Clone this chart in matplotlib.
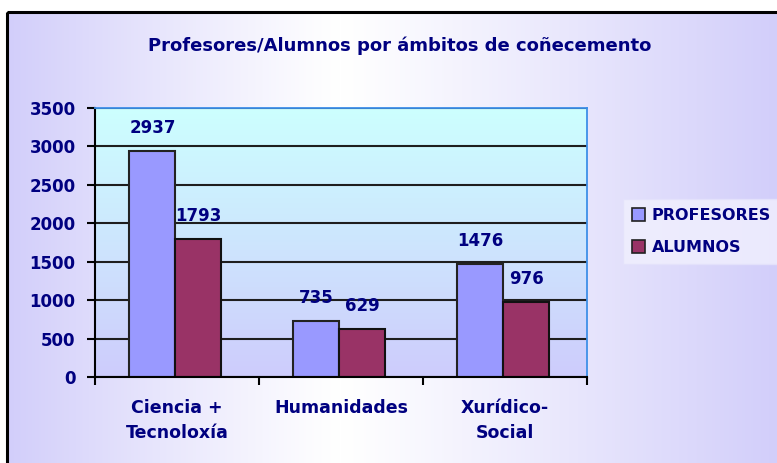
import matplotlib
matplotlib.use('Agg')
import matplotlib.pyplot as plt
import numpy as np
from matplotlib.patches import Patch, Rectangle

# 数据
categorias = ['Ciencia +\nTecnoloxía', 'Humanidades', 'Xurídico-\nSocial']
profesores = [2937, 735, 1476]
alumnos = [1793, 629, 976]
yticks = [0, 500, 1000, 1500, 2000, 2500, 3000, 3500]
titulo = 'Profesores/Alumnos por ámbitos de coñecemento'
series = ['PROFESORES', 'ALUMNOS']

# 样式
color_prof = '#9999ff'
color_alum = '#993366'
color_texto = '#000080'
plt.rcParams['font.family'] = ['DejaVu Sans']
plt.rcParams['font.weight'] = 'bold'

W, H = 777, 463
fig = plt.figure(figsize=(W / 100, H / 100), dpi=100)
fig.patch.set_facecolor('white')

# 背景渐变（左右淡紫，中间白）
bg = fig.add_axes([0, 0, 1, 1], zorder=-10)
bg.set_xlim(0, W)
bg.set_ylim(H, 0)
bg.axis('off')
lav = np.array([210, 206, 250]) / 255.0
xs = np.arange(W)
t = np.where(xs < 340, (340 - xs) / 333.0, (xs - 340) / 437.0)
t = np.clip(t, 0, 1) ** 1.1
row = (1 - t)[:, None] * np.ones(3) + t[:, None] * lav
img = np.repeat(row[None, :, :], H, axis=0)
bg.imshow(img, extent=(0, W, H, 0), aspect='auto', interpolation='bilinear')
bg.add_patch(Rectangle((0, 0), W, 12, facecolor='white', edgecolor='none'))
bg.add_patch(Rectangle((0, 0), 7, H, facecolor='white', edgecolor='none'))
bg.add_patch(Rectangle((7, 12), 900, 600, facecolor='none', edgecolor='black', lw=2.2))

# 绘图区
ax = fig.add_axes([95 / W, (H - 377) / H, 492 / W, 269 / H])
grad = np.linspace(0, 1, 256)[:, None]
top = np.array([204, 255, 255]) / 255.0
bot = np.array([206, 204, 252]) / 255.0
pa = (1 - grad)[:, :, None] * top + grad[:, :, None] * bot
ax.imshow(pa, extent=(-0.5, 2.5, 0, 3500), aspect='auto', zorder=0)

x = np.arange(len(categorias))
w = 0.28
b1 = ax.bar(x - w / 2 - 0.01, profesores, w, color=color_prof, edgecolor='#222222', linewidth=1.5, zorder=2)
b2 = ax.bar(x + w / 2 - 0.01, alumnos, w, color=color_alum, edgecolor='#111111', linewidth=1.5, zorder=2)

# 数据标签
for bars, vals in ((b1, profesores), (b2, alumnos)):
    for bar, v in zip(bars, vals):
        ax.annotate(f'{v}', (bar.get_x() + bar.get_width() / 2, bar.get_height()),
                    xytext=(0, 10), textcoords='offset points', ha='center', va='bottom',
                    fontsize=12, fontweight='bold', color=color_texto, zorder=3)

ax.set_xlim(-0.5, 2.5)
ax.set_ylim(0, 3500)
ax.set_yticks(yticks)
ax.set_yticklabels([str(v) for v in yticks])
ax.grid(axis='y', color='#1e1e1e', linewidth=1.5)
ax.set_axisbelow(True)

ax.set_xticks([-0.5, 0.5, 1.5, 2.5])
ax.set_xticklabels([])
ax.set_xticks(x, minor=True)
ax.set_xticklabels(categorias, minor=True, linespacing=1.5)
ax.tick_params(axis='x', which='major', direction='out', length=6, width=1.5, color='black')
ax.tick_params(axis='x', which='minor', length=0, pad=16, labelsize=12.5, labelcolor=color_texto)
ax.tick_params(axis='y', direction='out', length=6, width=1.5, color='black', pad=8,
               labelsize=12, labelcolor=color_texto)

for s in ('left', 'bottom'):
    ax.spines[s].set_color('black')
    ax.spines[s].set_linewidth(1.5)
for s in ('top', 'right'):
    ax.spines[s].set_color('#3d8fe8')
    ax.spines[s].set_linewidth(1.3)

# 标题
fig.text(400 / W, 1 - 46 / H, titulo, ha='center', va='center', fontsize=13,
         fontweight='bold', color=color_texto)

# 图例
handles = [Patch(facecolor=color_prof, edgecolor='#222222', lw=1.2),
           Patch(facecolor=color_alum, edgecolor='#222222', lw=1.2)]
leg = fig.legend(handles, series, loc='upper left', bbox_to_anchor=(623 / W, 1 - 199 / H),
                 borderaxespad=0, frameon=True, fontsize=11.5, handlelength=0.85,
                 handleheight=0.85, handletextpad=0.4, labelspacing=1.1, borderpad=0.55,
                 fancybox=False)
leg.get_frame().set_facecolor('#f0effe')
leg.get_frame().set_edgecolor('#e4e2fb')
leg.get_frame().set_alpha(0.85)
for txt in leg.get_texts():
    txt.set_color(color_texto)
    txt.set_fontweight('bold')

fig.savefig('out.png', dpi=100)
